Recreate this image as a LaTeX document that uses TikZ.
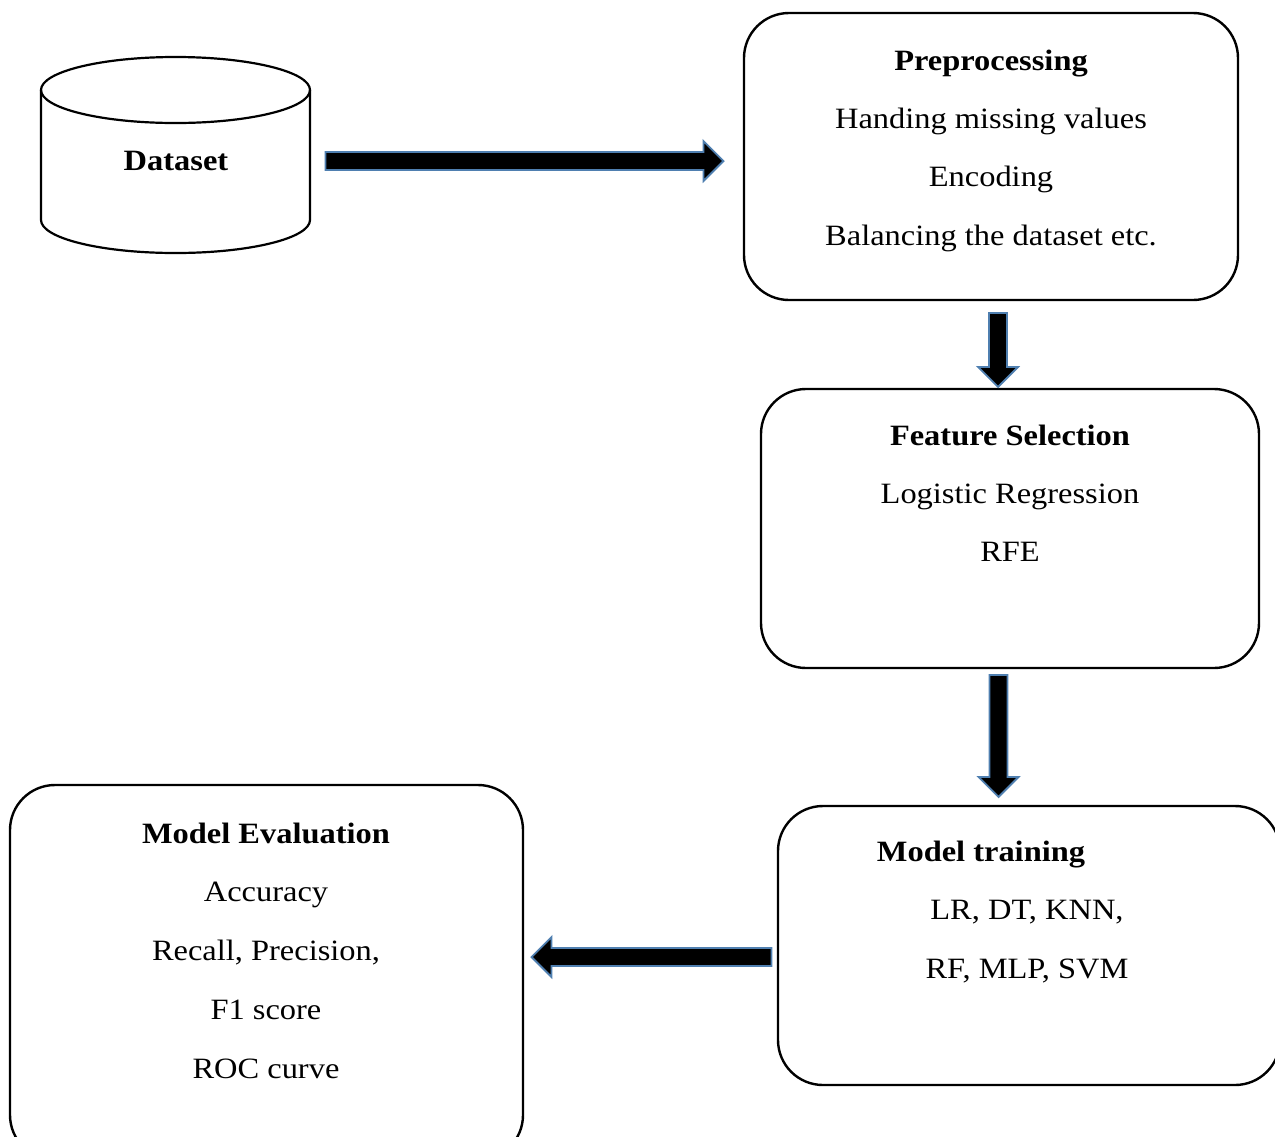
\documentclass[tikz,border=0pt]{standalone}
\usepackage{fontspec}
\setmainfont[FakeStretch=1.1]{Liberation Serif}
\usetikzlibrary{shapes.arrows}
\definecolor{arrowblue}{HTML}{4F7FB0}
\tikzset{
  box/.style={draw=black, line width=2.4pt, rounded corners=45pt, fill=none},
  txt/.style={font=\fontsize{29.5}{32}\selectfont, anchor=base, inner sep=0pt},
  btxt/.style={txt, font=\fontsize{29.5}{32}\selectfont\bfseries},
  blockarrow/.style={single arrow, draw=arrowblue, fill=black, line width=1.8pt,
    inner sep=8pt, single arrow head extend=11pt, single arrow tip angle=90,
    anchor=center, minimum width=40pt},
}
\begin{document}
\begin{tikzpicture}[x=1pt,y=-1pt]
\useasboundingbox (0,0) rectangle (1275,1136);
% dataset cylinder
\draw[line width=2.2pt] (175.5,90) ellipse [x radius=134.5, y radius=33];
\draw[line width=2.2pt] (41,90) -- (41,220) arc [start angle=180, end angle=0, x radius=134.5, y radius=33] -- (310,90);
\node[btxt] (ds) at (176,170) {Dataset};
% boxes
\draw[box] (744,13) rectangle (1238,300);
\node[btxt] (pre1) at (991,70) {Preprocessing};
\node[txt] (pre2) at (991,128) {Handing missing values};
\node[txt] (pre3) at (991,186) {Encoding};
\node[txt] (pre4) at (991,245) {Balancing the dataset etc.};
\draw[box] (761,389) rectangle (1259,668);
\node[btxt] (fs1) at (1010,445) {Feature Selection};
\node[txt] (fs2) at (1010,503) {Logistic Regression};
\node[txt] (fs3) at (1010,561) {RFE};
\draw[box] (778,806) rectangle (1280,1085);
\node[btxt] (mt1) at (981,861) {Model training};
\node[txt] (mt2) at (1027,919) {LR, DT, KNN,};
\node[txt] (mt3) at (1027,978) {RF, MLP, SVM};
\draw[box] (10,785) rectangle (523,1160);
\node[btxt] (me1) at (266,843) {Model Evaluation};
\node[txt] (me2) at (266,901) {Accuracy};
\node[txt] (me3) at (266,960) {Recall, Precision,};
\node[txt] (me4) at (266,1019) {F1 score};
\node[txt] (me5) at (266,1078) {ROC curve};
% arrows
\node[blockarrow, minimum height=398pt] (a1) at (520,161) {};
\node[blockarrow, minimum height=74pt, rotate=-90] (a2) at (998,345.5) {};
\node[blockarrow, minimum height=122pt, rotate=-90] (a3) at (998.5,731.5) {};
\node[blockarrow, minimum height=240pt, rotate=180] (a4) at (656,957) {};
\end{tikzpicture}
\end{document}
